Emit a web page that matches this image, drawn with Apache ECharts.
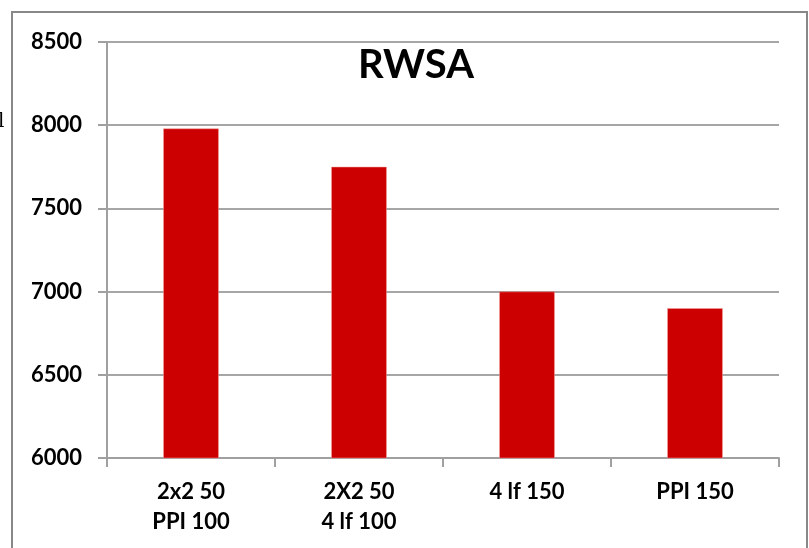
<!DOCTYPE html>
<html>
<head>
<meta charset="utf-8">
<script src="https://cdn.jsdelivr.net/npm/echarts@6/dist/echarts.min.js"></script>
<style>
html,body{margin:0;padding:0;background:#fff;}
#chart{width:809px;height:548px;}
</style>
</head>
<body>
<div id="chart"></div>
<script>
var categories = ['2x2 50\nPPI 100', '2X2 50\n4 lf 100', '4 lf 150', 'PPI 150'];
var values = [7980, 7750, 7000, 6900];
var yMin = 6000, yMax = 8500, yStep = 500;
var titleText = 'RWSA';

var chart = echarts.init(document.getElementById('chart'));
var font = 'Lato, "Open Sans", sans-serif';
chart.setOption({
  animation: false,
  backgroundColor: '#ffffff',
  title: {
    text: titleText,
    left: 411, top: 40, textAlign: 'center',
    textStyle: {fontFamily: font, fontWeight: 'bold', fontSize: 40, color: '#000'}
  },
  grid: {left: 107, right: 30, top: 42, bottom: 90, containLabel: false},
  xAxis: {
    type: 'category',
    data: categories,
    axisLine: {show: true, lineStyle: {color: '#a0a0a0', width: 2}},
    axisTick: {show: true, length: 9, alignWithLabel: false, lineStyle: {color: '#a0a0a0', width: 2}},
    axisLabel: {fontFamily: font, fontWeight: 'bold', fontSize: 22, color: '#000', lineHeight: 30, margin: 19, interval: 0}
  },
  yAxis: {
    type: 'value',
    min: yMin, max: yMax, interval: yStep,
    axisLine: {show: true, lineStyle: {color: '#a0a0a0', width: 2}},
    axisTick: {show: true, length: 9, lineStyle: {color: '#a0a0a0', width: 2}},
    splitLine: {show: true, lineStyle: {color: '#a6a6a6', width: 2}},
    axisLabel: {fontFamily: font, fontWeight: 'bold', fontSize: 22, color: '#000', margin: 25,
      formatter: function (v) { return String(v); }}
  },
  series: [{
    type: 'bar',
    data: values,
    barWidth: '33%',
    itemStyle: {color: '#cc0000', borderColor: '#f0a0a0', borderWidth: 0.5}
  }],
  graphic: [
    {type: 'rect', shape: {x: 12, y: 12, width: 795, height: 560}, style: {fill: 'none', stroke: '#888', lineWidth: 2}, silent: true},
    {type: 'text', left: -2, top: 112, style: {text: 'l', font: '20px "DejaVu Serif", serif', fill: '#000'}}
  ]
});
</script>
</body>
</html>
